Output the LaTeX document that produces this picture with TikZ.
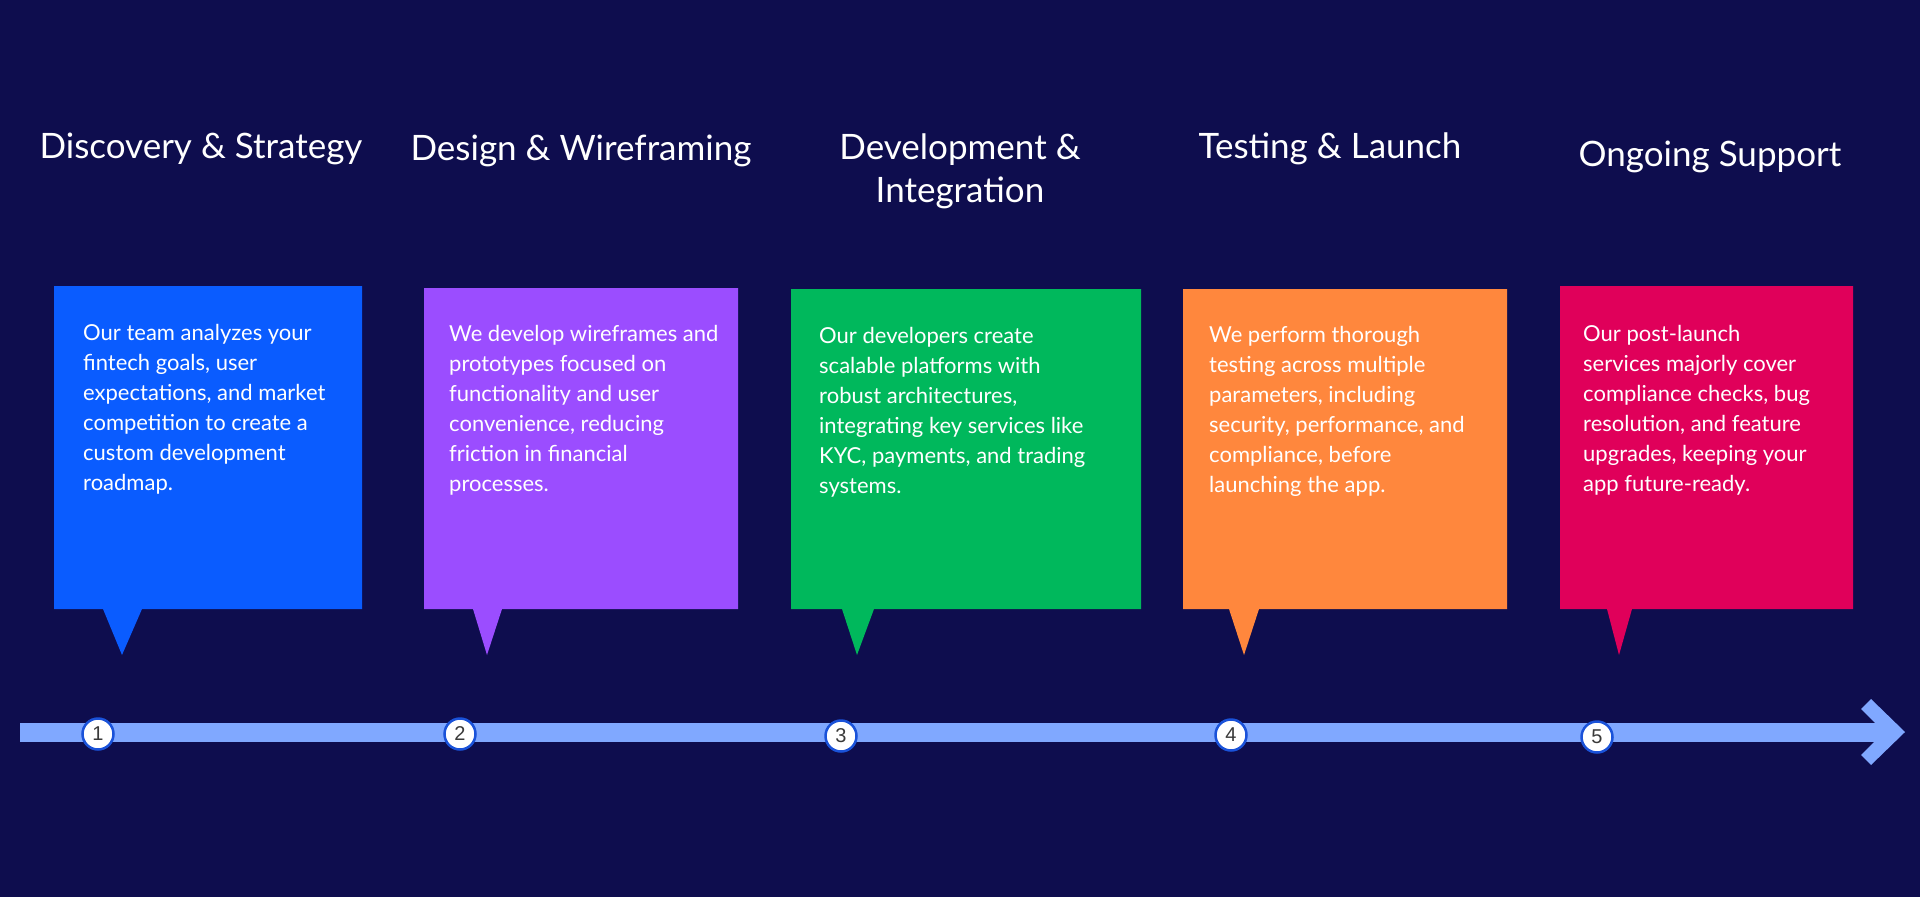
\documentclass[tikz,border=0pt]{standalone}
\usepackage{fontspec}
\setmainfont{Lato}
\newfontfamily\numfont{Liberation Sans}
\definecolor{bgc}{HTML}{0E0D4E}
\definecolor{cblue}{HTML}{0A5CFF}
\definecolor{cpurple}{HTML}{9B4DFF}
\definecolor{cgreen}{HTML}{00B85C}
\definecolor{corange}{HTML}{FF873D}
\definecolor{cpink}{HTML}{E0005A}
\definecolor{barc}{HTML}{80A8FF}
\definecolor{ringc}{HTML}{1A52D9}
\definecolor{numc}{HTML}{3A3A3A}
\tikzset{
  heading/.style={text=white, font=\fontsize{35}{43}\selectfont, align=center, inner sep=0pt},
  bodytext/.style={text=white, font=\fontsize{22}{30}\selectfont, align=left, anchor=north west, inner sep=0pt},
  stepnum/.style={circle, fill=white, draw=ringc, line width=2.5pt, minimum size=31pt, inner sep=0pt, text=numc, font=\numfont\fontsize{20}{20}\selectfont},
}
\begin{document}
\begin{tikzpicture}[x=1pt,y=-1pt]
\fill[bgc] (0,0) rectangle (1920,897);
\useasboundingbox (0,0) rectangle (1920,897);

% timeline
\fill[barc] (20,723) rectangle (1886,742);
\fill[barc] (1871,699) -- (1905,732) -- (1871,765) -- (1861,755) -- (1884,732) -- (1861,709) -- cycle;

% boxes
\fill[cblue] (54,286) -- (362,286) -- (362,609) -- (142,609) -- (122,655) -- (103,609) -- (54,609) -- cycle;
\fill[cpurple] (424,288) -- (738,288) -- (738,609) -- (502,609) -- (487,655) -- (473,609) -- (424,609) -- cycle;
\fill[cgreen] (791,289) -- (1141,289) -- (1141,609) -- (874,609) -- (857,655) -- (842,609) -- (791,609) -- cycle;
\fill[corange] (1183,289) -- (1507,289) -- (1507,609) -- (1259,609) -- (1244,655) -- (1229,609) -- (1183,609) -- cycle;
\fill[cpink] (1560,286) -- (1853,286) -- (1853,609) -- (1632,609) -- (1619,655) -- (1607,609) -- (1560,609) -- cycle;

% headings
\node[heading] (h1) at (201,149) {Discovery \& Strategy};
\node[heading] (h2) at (581,151) {Design \& Wireframing};
\node[heading] (h3) at (960,171) {Development \&\\Integration};
\node[heading] (h4) at (1330,149) {Testing \& Launch};
\node[heading] (h5) at (1710,157) {Ongoing Support};

% body texts
\node[bodytext] (t1) at (83,324) {Our team analyzes your\\fintech goals, user\\expectations, and market\\competition to create a\\custom development\\roadmap.};
\node[bodytext] (t2) at (449,325) {We develop wireframes and\\prototypes focused on\\functionality and user\\convenience, reducing\\friction in financial\\processes.};
\node[bodytext] (t3) at (819,327) {Our developers create\\scalable platforms with\\robust architectures,\\integrating key services like\\KYC, payments, and trading\\systems.};
\node[bodytext] (t4) at (1209,326) {We perform thorough\\testing across multiple\\parameters, including\\security, performance, and\\compliance, before\\launching the app.};
\node[bodytext] (t5) at (1583,325) {Our post-launch\\services majorly cover\\compliance checks, bug\\resolution, and feature\\upgrades, keeping your\\app future-ready.};

% step numbers
\node[stepnum] (n1) at (98,734) {1};
\node[stepnum] (n2) at (460,734) {2};
\node[stepnum] (n3) at (841,736) {3};
\node[stepnum] (n4) at (1231,735) {4};
\node[stepnum] (n5) at (1597,737) {5};
\end{tikzpicture}
\end{document}
